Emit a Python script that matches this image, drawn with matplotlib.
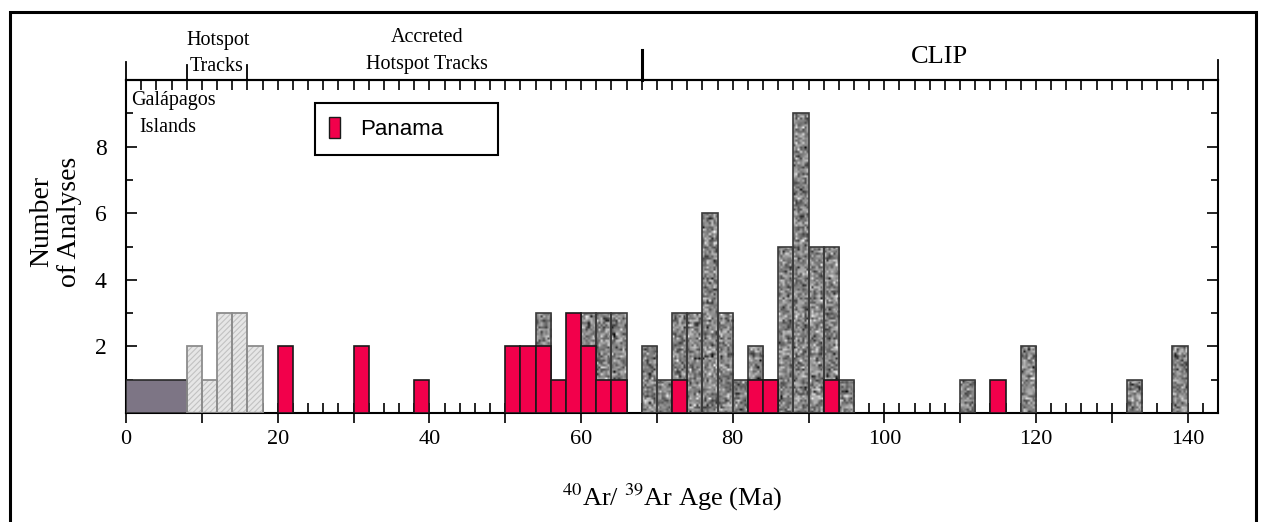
import matplotlib
matplotlib.use("Agg")
import matplotlib.pyplot as plt
import matplotlib.transforms as mtransforms
from matplotlib.patches import Patch, Rectangle
import numpy as np

plt.rcParams['font.family'] = ['Liberation Serif', 'DejaVu Serif']
plt.rcParams['mathtext.fontset'] = 'stix'
plt.rcParams['hatch.linewidth'] = 0.8

# Histogram counts, 2 Ma bins (left edge of each bin)
galapagos_left = [0]
galapagos_width = [8]
galapagos_count = [1]

hotspot_left = [8, 10, 12, 14, 16]
hotspot_count = [2, 1, 3, 3, 2]

clip_left = [54, 60, 62, 64, 68, 70, 72, 74, 76, 78, 80, 82, 84, 86, 88, 90, 92, 94,
             110, 118, 132, 138]
clip_count = [3, 3, 3, 3, 2, 1, 3, 3, 6, 3, 1, 2, 1, 5, 9, 5, 5, 1,
              1, 2, 1, 2]

panama_left = [20, 30, 38, 50, 52, 54, 56, 58, 60, 62, 64, 72, 82, 84, 92, 114]
panama_count = [2, 2, 1, 2, 2, 2, 1, 3, 2, 1, 1, 1, 1, 1, 1, 1]

bin_width = 2
x_ticks = [0, 20, 40, 60, 80, 100, 120, 140]
y_ticks = [2, 4, 6, 8]

red = '#f2004b'

fig = plt.figure(figsize=(12.64, 5.22), dpi=100)
ax = fig.add_axes([0.0997, 0.2088, 0.8639, 0.6379])

# Galapagos bar
ax.bar(galapagos_left, galapagos_count, width=galapagos_width, align='edge',
       color='#7d7585', edgecolor='#2a2a2a', linewidth=1.2, zorder=3)

# hotspot track bars: hatched fill, then outline
ax.bar(hotspot_left, hotspot_count, width=bin_width, align='edge',
       color='#e6e6e6', edgecolor='#c2c2c2', hatch='//////', linewidth=0, zorder=2)
ax.bar(hotspot_left, hotspot_count, width=bin_width, align='edge',
       facecolor='none', edgecolor='#8c8c8c', linewidth=1.3, zorder=3)

# CLIP bars with a speckled stone texture
rng = np.random.default_rng(11)
for left, h in zip(clip_left, clip_count):
    rect = Rectangle((left, 0), bin_width, h, transform=ax.transData)
    speck = np.clip(rng.normal(0.52, 0.16, size=(int(h * 15), 7)), 0, 1)
    im = ax.imshow(speck, cmap='gray', vmin=0, vmax=1, extent=(left, left + bin_width, 0, h),
                   aspect='auto', interpolation='bilinear', zorder=2)
    im.set_clip_path(rect)
ax.bar(clip_left, clip_count, width=bin_width, align='edge',
       facecolor='none', edgecolor='#3a3a3a', linewidth=1.2, zorder=3)

# Panama bars on top
ax.bar(panama_left, panama_count, width=bin_width, align='edge',
       color=red, edgecolor='#1a1a1a', linewidth=1.2, zorder=4)

ax.set_xlim(0, 144)
ax.set_ylim(0, 10)

# x axis ticks
ax.set_xticks(np.arange(0, 141, 10))
ax.set_xticklabels([str(t) if t in x_ticks else '' for t in np.arange(0, 141, 10)])
ax.set_xticks(np.arange(0, 145, 2), minor=True)
ax.tick_params(axis='x', which='major', direction='inout', length=14, width=1.2,
               labelsize=16, pad=5, top=False)
ax.tick_params(axis='x', which='minor', direction='in', length=7, width=1.2, top=False)

top = ax.secondary_xaxis('top')
top.set_xticks(np.arange(0, 145, 2))
top.set_xticklabels([])
top.tick_params(direction='in', length=7, width=1.2)
top.spines['top'].set_linewidth(1.5)

# y axis ticks
ax.set_yticks(y_ticks)
ax.set_yticks([1, 3, 5, 7, 9], minor=True)
ax.tick_params(axis='y', which='both', direction='in', left=True, right=True, width=1.2,
               labelsize=17, pad=14)
ax.tick_params(axis='y', which='major', length=8)
ax.tick_params(axis='y', which='minor', length=5)
for s in ax.spines.values():
    s.set_linewidth(1.5)

ax.set_xlabel('$^{40}$Ar/ $^{39}$Ar Age (Ma)', fontsize=19, labelpad=24)
fig.text(0.044, 0.575, 'Number\nof Analyses', rotation=90, ha='center', va='center',
         multialignment='center', fontsize=20, linespacing=1.1)

# brackets and region names above the plot
trans = mtransforms.blended_transform_factory(ax.transData, ax.transAxes)
for xb, yt, lw in [(0, 1.055, 1.3), (8, 1.045, 1.3), (16, 1.045, 1.3),
                   (68, 1.09, 2.2), (144, 1.06, 1.3)]:
    ax.plot([xb, xb], [1.0, yt], color='black', lw=lw, transform=trans, clip_on=False)

ax.text(12.2, 1.12, 'Hotspot', transform=trans, ha='center', va='center', fontsize=14.5)
ax.text(12.0, 1.04, 'Tracks', transform=trans, ha='center', va='center', fontsize=14.5)
ax.text(39.7, 1.129, 'Accreted', transform=trans, ha='center', va='center', fontsize=14.5)
ax.text(39.7, 1.048, 'Hotspot Tracks', transform=trans, ha='center', va='center',
        fontsize=14.5)
ax.text(107.3, 1.069, 'CLIP', transform=trans, ha='center', va='center', fontsize=19)
ax.text(6.3, 0.94, 'Galápagos', transform=trans, ha='center', va='center', fontsize=14.5)
ax.text(5.5, 0.856, 'Islands', transform=trans, ha='center', va='center', fontsize=14.5)

# legend
handle = Patch(facecolor=red, edgecolor='#1a1a1a', linewidth=1.0, label='Panama')
leg = ax.legend(handles=[handle], loc='upper left', bbox_to_anchor=(0.173, 0.931, 0.168, 0),
                mode='expand', frameon=True, fancybox=False, framealpha=1,
                prop={'family': 'Liberation Sans', 'size': 16},
                handlelength=0.5, handleheight=1.05, handletextpad=0.9, borderpad=0.65,
                borderaxespad=0)
leg.get_frame().set_edgecolor('black')
leg.get_frame().set_linewidth(1.5)
leg.set_zorder(6)

# outer frame
fig.patches.append(Rectangle((0.008, -0.02), 0.986, 0.997, transform=fig.transFigure,
                             fill=False, edgecolor='black', linewidth=2.2))

fig.savefig('out.png', dpi=100)
